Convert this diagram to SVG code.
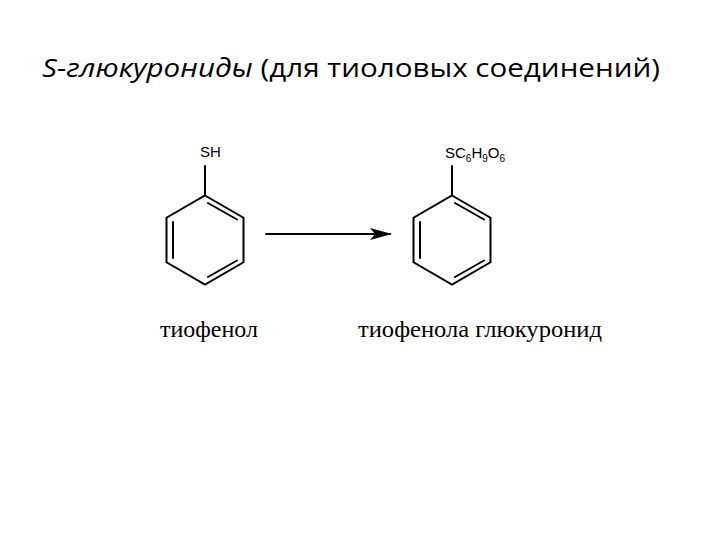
<svg xmlns="http://www.w3.org/2000/svg" width="720" height="540" viewBox="0 0 720 540">
<style>
.b{stroke:#000;stroke-width:2;fill:none;stroke-linecap:round}
.t{font-family:"Open Sans","Liberation Sans",sans-serif;font-size:25px;font-weight:500;fill:#000}
.l{font-family:"Liberation Serif",serif;font-size:23px;fill:#000}
.a{font-family:"Liberation Sans",Arial,sans-serif;font-size:15px;fill:#000}
</style>
<defs>
<marker id="ah" markerWidth="22" markerHeight="12" refX="20" refY="6" orient="auto" markerUnits="userSpaceOnUse"><path d="M0,0 L22,6 L0,12 L5,6z" fill="#000"/></marker>
<g id="ring">
<path class="b" d="M0,-44.5 L38.5,-22.25 L38.5,22.25 L0,44.5 L-38.5,22.25 L-38.5,-22.25 Z"/>
<path class="b" d="M3,-37 L32,-20.5 M-32,-18 L-32,18 M3,37 L32,20.5"/>
</g>
</defs>
<rect width="720" height="540" fill="#fff"/>
<text class="t" x="42" y="77" textLength="618" lengthAdjust="spacingAndGlyphs"><tspan font-style="italic">S-глюкурониды</tspan> (для тиоловых соединений)</text>
<g id="thiophenol">
<use href="#ring" x="205" y="240"/>
<line class="b" x1="205" y1="195.5" x2="205" y2="166"/>
<text class="a" x="200" y="157">SH</text>
</g>
<g id="glucuronide">
<use href="#ring" x="452" y="240"/>
<line class="b" x1="452" y1="195.5" x2="452" y2="166"/>
<text class="a" x="445" y="158">SC<tspan font-size="10" dy="4">6</tspan><tspan dy="-4">H</tspan><tspan font-size="10" dy="4">9</tspan><tspan dy="-4">O</tspan><tspan font-size="10" dy="4">6</tspan></text>
</g>
<g id="connectors">
<line class="b" x1="266" y1="234" x2="390" y2="234" marker-end="url(#ah)"/>
</g>
<text class="l" x="160" y="337" textLength="98" lengthAdjust="spacingAndGlyphs">тиофенол</text>
<text class="l" x="358" y="337" textLength="244" lengthAdjust="spacingAndGlyphs">тиофенола глюкуронид</text>
</svg>
